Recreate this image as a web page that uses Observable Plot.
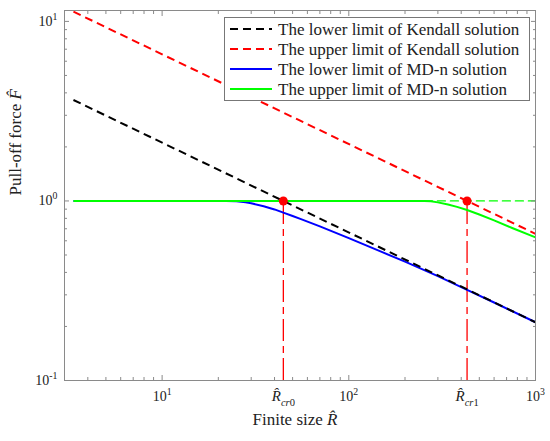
<!DOCTYPE html>
<html><head><meta charset="utf-8">
<script src="https://cdn.jsdelivr.net/npm/d3@7"></script>
<script src="https://cdn.jsdelivr.net/npm/@observablehq/plot@0.6"></script>
<style>body{margin:0;background:#fff} svg{display:block}</style>
</head><body><div id="chart"></div>
<script>
// ---- data ----
const seriesNames = [
  "The lower limit of Kendall solution",
  "The upper limit of Kendall solution",
  "The lower limit of MD-n solution",
  "The upper limit of MD-n solution"
];
const seriesColors = ["#000000", "#ff0000", "#0000ff", "#00ff00"];
const seriesDash = ["8,5", "8,5", null, null];

const kendallLowerR = [3.35, 1000];
const kendallLowerF = [3.65, 0.211];
const kendallUpperR = [3.35, 1000];
const kendallUpperF = [11.33, 0.656];
const mdnLowerR = [3.35, 22, 25, 28, 30, 35, 40, 44.6, 50, 55, 70, 100, 150, 200, 300, 430, 600, 1000];
const mdnLowerF = [1, 1, 0.995, 0.982, 0.971, 0.935, 0.897, 0.861, 0.824, 0.795, 0.722, 0.621, 0.52, 0.459, 0.381, 0.32, 0.272, 0.211];
const mdnUpperR = [3.35, 254, 275, 300, 340, 380, 430, 500, 600, 750, 1000];
const mdnUpperF = [1, 1, 0.995, 0.982, 0.955, 0.927, 0.89, 0.84, 0.78, 0.707, 0.627];
const mdnUpperFlatR = [254, 1000];
const mdnUpperFlatF = [1, 1];

const critR = [44.6, 430];
const critF = [1, 1];
const critLabels = ["$R\u0302$_{$cr$0}", "$R\u0302$_{$cr$1}"];

const xDomain = [3, 1000];
const yDomain = [0.1, 11.5];
const xMajor = [10, 100, 1000];
const xMajorLabels = ["10^{1}", "10^{2}", "10^{3}"];
const xMinor = [4, 5, 6, 7, 8, 9, 20, 30, 40, 50, 60, 70, 80, 90, 200, 300, 400, 500, 600, 700, 800, 900];
const yMajor = [0.1, 1, 10];
const yMajorLabels = ["10^{-1}", "10^{0}", "10^{1}"];
const yMinor = [0.2, 0.3, 0.4, 0.5, 0.6, 0.7, 0.8, 0.9, 2, 3, 4, 5, 6, 7, 8, 9];
const xTitle = "Finite size $R\u0302$";
const yTitle = "Pull-off force $F\u0302$";

const seriesR = [kendallLowerR, kendallUpperR, mdnLowerR, mdnUpperR];
const seriesF = [kendallLowerF, kendallUpperF, mdnLowerF, mdnUpperF];

// ---- build ----
const FONT = "'Liberation Serif', 'Times New Roman', serif";
const AX = "#8a8a8a";
const TXT = "#222";
const pts = (R, F) => R.map((r, i) => ({R: r, F: F[i]}));

const lineMarks = seriesR.map((R, k) =>
  Plot.line(pts(R, seriesF[k]), {
    x: "R", y: "F", stroke: seriesColors[k], strokeWidth: 2,
    strokeDasharray: seriesDash[k] || undefined, strokeLinecap: "butt"
  })
);

const tickOpts = (anchor, size) => ({anchor, tickSize: size, tickFormat: () => "", stroke: AX, label: null});

const svg = Plot.plot({
  width: 550, height: 441,
  marginLeft: 64, marginRight: 15, marginTop: 10, marginBottom: 61,
  style: {fontFamily: FONT, background: "#fff"},
  x: {type: "log", domain: xDomain, axis: null},
  y: {type: "log", domain: yDomain, axis: null},
  marks: [
    // reference lines at critical sizes
    Plot.ruleX(critR, {x: d => d, y1: yDomain[0], y2: 1, stroke: "#ff0000", strokeWidth: 1.3, strokeDasharray: "22,5,7,5"}),
    Plot.line(pts(mdnUpperFlatR, mdnUpperFlatF), {x: "R", y: "F", stroke: "#00ff00", strokeWidth: 1.3, strokeDasharray: "8,5"}),
    ...lineMarks.slice(2),
    ...lineMarks.slice(0, 2),
    Plot.dot(pts(critR, critF), {x: "R", y: "F", r: 4.5, fill: "#ff0000", stroke: null}),
    Plot.frame({stroke: AX, strokeWidth: 1}),
    // inward ticks on all four sides
    Plot.axisX(xMajor, tickOpts("bottom", -5)),
    Plot.axisX(xMinor, tickOpts("bottom", -3)),
    Plot.axisX(xMajor, tickOpts("top", -5)),
    Plot.axisX(xMinor, tickOpts("top", -3)),
    Plot.axisY(yMajor, tickOpts("left", -5)),
    Plot.axisY(yMinor, tickOpts("left", -3)),
    Plot.axisY(yMajor, tickOpts("right", -5)),
    Plot.axisY(yMinor, tickOpts("right", -3)),
    // tick labels
    Plot.text(xMajor, {x: d => d, frameAnchor: "bottom", dy: 20, text: (d, i) => xMajorLabels[i], fontSize: 14, fill: TXT, textAnchor: "middle"}),
    Plot.text(critR, {x: d => d, frameAnchor: "bottom", dy: 20, text: (d, i) => critLabels[i], fontSize: 15, fill: TXT, textAnchor: "middle"}),
    Plot.text(yMajor, {y: d => d, frameAnchor: "left", dx: -7, text: (d, i) => yMajorLabels[i], fontSize: 14, fill: TXT, textAnchor: "end"}),
    // axis titles
    Plot.text([xTitle], {frameAnchor: "bottom", dx: -5, dy: 44, text: d => d, fontSize: 17, fill: TXT}),
    Plot.text([yTitle], {frameAnchor: "left", dx: -49, rotate: -90, text: d => d, fontSize: 17, fill: TXT})
  ]
});

// rich text: $..$ italic, ^{..} superscript, _{..} subscript
function parseRich(s) {
  const parts = []; let italic = false, mode = null, buf = "";
  const flush = () => { if (buf) parts.push({t: buf, italic, mode}); buf = ""; };
  for (let i = 0; i < s.length; i++) {
    const c = s[i];
    if (c === "$") { flush(); italic = !italic; }
    else if ((c === "^" || c === "_") && s[i + 1] === "{") { flush(); mode = c === "^" ? "sup" : "sub"; i++; }
    else if (c === "}" && mode) { flush(); mode = null; }
    else buf += c;
  }
  flush();
  return parts;
}
d3.select(svg).selectAll("text").each(function () {
  const s = this.textContent;
  if (!/[\^_$]/.test(s)) return;
  const parts = parseRich(s);
  this.textContent = "";
  let off = 0;
  for (const p of parts) {
    const ts = d3.select(this).append("tspan").text(p.t);
    const target = p.mode === "sup" ? -6 : p.mode === "sub" ? 5 : 0;
    if (target !== off) { ts.attr("dy", target - off); off = target; }
    if (p.mode) ts.attr("font-size", "0.7em");
    if (p.italic) ts.attr("font-style", "italic");
  }
});

// legend (top right, inside the axes)
const lg = d3.select(svg).append("g").attr("font-family", FONT).attr("text-anchor", "start");
lg.append("rect").attr("x", 224.5).attr("y", 17.5).attr("width", 305).attr("height", 83)
  .attr("fill", "#fff").attr("stroke", "#777").attr("stroke-width", 1);
seriesNames.forEach((name, k) => {
  const y = 29 + k * 20;
  lg.append("line").attr("x1", 230).attr("x2", 272).attr("y1", y).attr("y2", y)
    .attr("stroke", seriesColors[k]).attr("stroke-width", 2)
    .attr("stroke-dasharray", seriesDash[k]);
  lg.append("text").attr("x", 278).attr("y", y).attr("dy", "0.35em")
    .attr("font-size", 17).attr("fill", TXT).attr("text-anchor", "start").text(name);
});

document.getElementById("chart").appendChild(svg);
</script>
</body></html>
